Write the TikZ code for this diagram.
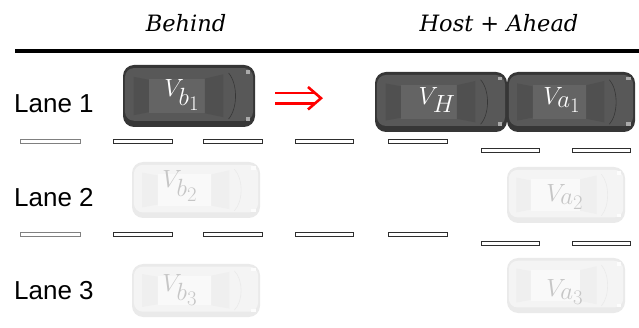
\documentclass[tikz,border=0pt]{standalone}
\usepackage{fontspec}
\setsansfont{Liberation Sans}
\newfontfamily\headfont{DejaVu Serif}
% larger sub- and sub-subscripts for the vehicle names
\DeclareMathSizes{34}{34}{25}{21}

\definecolor{darkedge}{HTML}{363636}
\definecolor{darkbody}{HTML}{585858}
\definecolor{darkglass}{HTML}{505050}
\definecolor{darkroof}{HTML}{646464}
\definecolor{ghostedge}{HTML}{EAEAEA}
\definecolor{ghostbody}{HTML}{F4F4F4}
\definecolor{ghostglass}{HTML}{EFEFEF}
\definecolor{ghostroof}{HTML}{F9F9F9}
\definecolor{ghosttext}{HTML}{C6C6C6}
\definecolor{dashedge}{HTML}{2E2E2E}
\definecolor{arrowred}{HTML}{FF0000}

\tikzset{
  % top-down car, front to the right, drawn in a unit box
  pics/car/.style n args={4}{code={
    \path[fill=#1, rounded corners=11pt] (0,0) rectangle (1,1);
    \path[fill=#2, rounded corners=9pt] (0.015,0.05) rectangle (0.985,0.9);
    \path[fill=#3] (0.08,0.19) -- (0.2,0.24) -- (0.2,0.76) -- (0.08,0.81) -- cycle;
    \path[fill=#4] (0.2,0.22) rectangle (0.62,0.78);
    \path[fill=#3] (0.62,0.22) -- (0.76,0.15) -- (0.76,0.84) -- (0.62,0.78) -- cycle;
    \draw[#1, line width=0.6pt] (0.8,0.13) .. controls (0.87,0.3) and (0.87,0.7) .. (0.8,0.87);
    \path[fill=#4!55!white] (0.93,0.08) rectangle (0.965,0.14);
    \path[fill=#4!55!white] (0.93,0.84) rectangle (0.965,0.9);
  }},
}

\begin{document}
\begin{tikzpicture}[x=1pt, y=-1pt,
  lanelabel/.style={font=\sffamily\fontsize{26}{26}\selectfont, anchor=base west, inner sep=0pt},
  colhead/.style={font=\headfont\itshape\fontsize{22.5}{22.5}\selectfont, anchor=base, inner sep=0pt},
  vlabel/.style={font=\fontsize{34}{34}\selectfont, inner sep=0pt, text=white},
  ghostlabel/.style={vlabel, text=ghosttext},
  lanedash/.style={draw=dashedge, fill=white, line width=0.9pt},
  fadeddash/.style={draw=gray, fill=white, line width=0.9pt},
  shiftarrow/.style={draw=arrowred, line width=2.6pt},
]
\useasboundingbox (0,0) rectangle (639,328);

% column headings and rule
\node[colhead] (hbehind) at (186,32) {Behind};
\node[colhead] (hahead) at (499,32) {Host + Ahead};
\draw[line width=4pt] (15,51) -- (639,51);

% lane names
\node[lanelabel] (lane1) at (14,113) {Lane 1};
\node[lanelabel] (lane2) at (14,207) {Lane 2};
\node[lanelabel] (lane3) at (14,299) {Lane 3};

% vehicles in lane 1
\pic[xscale=132, yscale=62] at (123,65) {car={darkedge}{darkbody}{darkglass}{darkroof}};
\pic[xscale=132, yscale=60] at (375,72) {car={darkedge}{darkbody}{darkglass}{darkroof}};
\pic[xscale=128, yscale=60] at (507,72) {car={darkedge}{darkbody}{darkglass}{darkroof}};

% faded vehicles in lanes 2 and 3
\pic[xscale=128, yscale=56] at (132,162) {car={ghostedge}{ghostbody}{ghostglass}{ghostroof}};
\pic[xscale=128, yscale=53] at (132,264) {car={ghostedge}{ghostbody}{ghostglass}{ghostroof}};
\pic[xscale=118, yscale=56] at (507,167) {car={ghostedge}{ghostbody}{ghostglass}{ghostroof}};
\pic[xscale=118, yscale=55] at (507,258) {car={ghostedge}{ghostbody}{ghostglass}{ghostroof}};

% vehicle names
\node[vlabel] (vb1) at (182,95) {$V_{b_1}$};
\node[vlabel] (vh) at (437,100) {$V_H$};
\node[vlabel] (va1) at (562,100) {$V_{a_1}$};
\node[ghostlabel] (vb2) at (180,186) {$V_{b_2}$};
\node[ghostlabel] (vb3) at (180,290) {$V_{b_3}$};
\node[ghostlabel] (va2) at (565,197) {$V_{a_2}$};
\node[ghostlabel] (va3) at (565,292) {$V_{a_3}$};

% lane-change arrow (double-stroke)
\path[shiftarrow] (275,93) -- (315,93) (275,103.5) -- (315,103.5);
\path[shiftarrow, line join=miter] (308,87) -- (321,98.2) -- (308,109.5);

% lane markings
\foreach \y in {141,234} {
  \draw[fadeddash] (20,\y-2) rectangle (80,\y+2);
  \draw[lanedash] (113,\y-2) rectangle (172,\y+2);
  \draw[lanedash] (203,\y-2) rectangle (262,\y+2);
  \draw[lanedash] (295,\y-2) rectangle (353,\y+2);
  \draw[lanedash] (388,\y-2) rectangle (447,\y+2);
}
\foreach \y in {150,243} {
  \draw[lanedash] (481,\y-2) rectangle (539,\y+2);
  \draw[lanedash] (572,\y-2) rectangle (630,\y+2);
}
\end{tikzpicture}
\end{document}
